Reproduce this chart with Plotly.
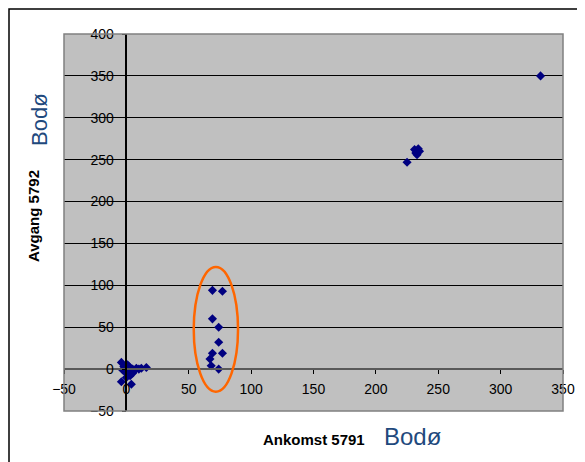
import plotly.graph_objects as go

# Ankomst 5791 (x) mot Avgang 5792 (y), Bodø
ankomst = [332, 225, 231, 234, 232, 235, 233,
           69, 77, 69, 74, 74, 69, 77, 67, 68, 74,
           16, -4, -4, 4, 0, 1, 2, 3, 5, -1, 0, 2, 4, 6, 8, 10, -2, 1, 3, 0, 5, 7, 2, -3, 12]
avgang = [350, 247, 262, 263, 258, 260, 256,
          94, 93, 60, 50, 32, 19, 19, 12, 4, 0,
          2, 8, -15, -18, 0, 2, -1, 1, 0, -3, -5, -6, -3, -2, 1, 0, 3, 5, -8, -10, -5, -1, 3, -1, 1]

x_range = [-50, 350]
y_range = [-50, 400]
tick_step = 50

# siden har 8px marg rundt figuren
W, H = 585, 462
L, T = 64 - 8, 34 - 8
PW, PH = 499, 377

fig = go.Figure()

fig.add_trace(go.Scatter(
    x=ankomst, y=avgang,
    mode='markers',
    marker=dict(symbol='diamond', size=7, color='#000080'),
    showlegend=False
))

# ellipse rundt gruppen ved ~70
fig.add_shape(type='circle', xref='x', yref='y',
              x0=54, x1=89.5, y0=-27, y1=122,
              line=dict(color='#FF6600', width=2.5))

# kant rundt plottområdet
fig.add_shape(type='rect', xref='paper', yref='paper',
              x0=0, x1=1, y0=0, y1=1,
              line=dict(color='#808080', width=1.5))

# ytre ramme
fig.add_shape(type='rect', xref='paper', yref='paper',
              x0=-(L - 1) / PW, x1=1.2, y0=-0.3, y1=(T - 1) / PH + 1,
              line=dict(color='black', width=1.5))

font_tick = dict(family='Liberation Sans, Arial', size=14, color='black')


def px(xp):
    return (xp - 64) / PW


def py(yp):
    return (411 - yp) / PH


fig.update_layout(
    width=W, height=H,
    margin=dict(l=L, r=W - L - PW, t=T, b=H - T - PH, autoexpand=False),
    paper_bgcolor='white',
    plot_bgcolor='#C0C0C0',
    xaxis=dict(
        range=x_range, dtick=tick_step, tick0=0,
        anchor='free', position=py(369), automargin=False,
        showgrid=False, zeroline=False,
        showline=True, linecolor='#595959', linewidth=1.5,
        ticks='outside', ticklen=4, tickcolor='black',
        ticklabelstandoff=3,
        tickfont=font_tick
    ),
    yaxis=dict(
        range=y_range, dtick=tick_step, tick0=0,
        anchor='free', position=px(126.4), automargin=False,
        showgrid=True, gridcolor='black', gridwidth=1,
        zeroline=False,
        showline=True, linecolor='black', linewidth=1.5,
        ticks='outside', ticklen=4, tickcolor='black',
        ticklabelstandoff=5,
        tickfont=font_tick
    ),
    annotations=[
        dict(text='<b>Ankomst 5791</b>', xref='paper', yref='paper',
             x=px(314), y=py(439), xanchor='center', yanchor='middle', showarrow=False,
             font=dict(family='Liberation Sans, Arial', size=15, color='black')),
        dict(text='Bodø', xref='paper', yref='paper',
             x=px(413), y=py(436), xanchor='center', yanchor='middle', showarrow=False,
             font=dict(family='Liberation Sans, Arial', size=24, color='#1F497D')),
        dict(text='<b>Avgang 5792</b>', xref='paper', yref='paper',
             x=px(33), y=py(216), xanchor='center', yanchor='middle',
             showarrow=False, textangle=-90,
             font=dict(family='Liberation Sans, Arial', size=15, color='black')),
        dict(text='Bodø', xref='paper', yref='paper',
             x=px(39), y=py(120), xanchor='center', yanchor='middle',
             showarrow=False, textangle=-90,
             font=dict(family='Liberation Sans, Arial', size=22, color='#1F497D')),
    ]
)

fig.write_html("out.html")
